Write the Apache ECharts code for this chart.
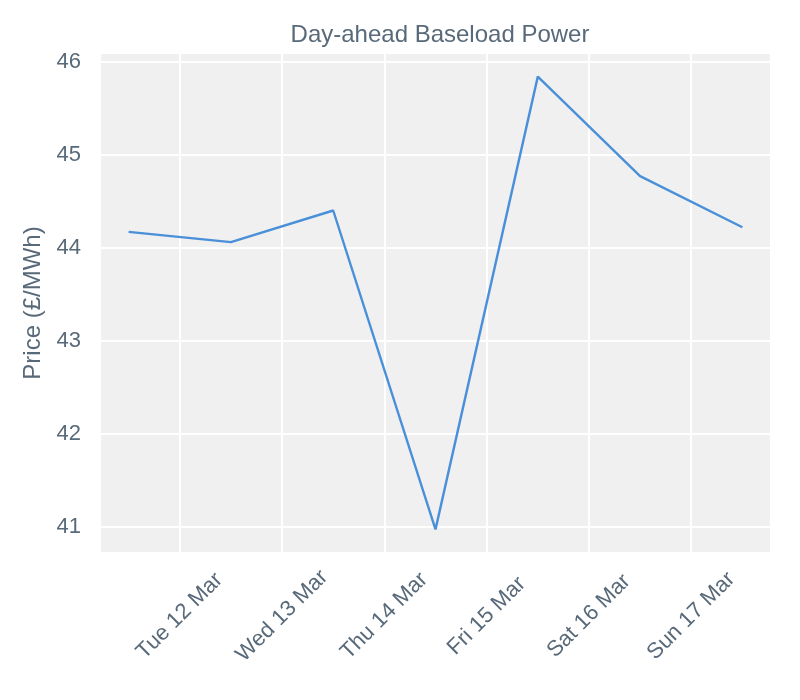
<!DOCTYPE html>
<html>
<head>
<meta charset="utf-8">
<script src="https://cdn.jsdelivr.net/npm/echarts@6/dist/echarts.min.js"></script>
<style>
	html, body { margin: 0; padding: 0; background: #fff; }
	#chart { width: 800px; height: 700px; }
</style>
</head>
<body>
<div id="chart"></div>
<script>
// data
var days = ['2024-03-11', '2024-03-12', '2024-03-13', '2024-03-14', '2024-03-15', '2024-03-16', '2024-03-17'];
var prices = [44.17, 44.06, 44.40, 40.97, 45.84, 44.77, 44.22];
var tickDays = ['2024-03-12', '2024-03-13', '2024-03-14', '2024-03-15', '2024-03-16', '2024-03-17'];
var yTicks = [41, 42, 43, 44, 45, 46];

var DAY = 86400000;
var weekNames = ['Sun', 'Mon', 'Tue', 'Wed', 'Thu', 'Fri', 'Sat'];
var monthNames = ['Jan', 'Feb', 'Mar', 'Apr', 'May', 'Jun', 'Jul', 'Aug', 'Sep', 'Oct', 'Nov', 'Dec'];

function toMs(s) {
	var p = s.split('-');
	return Date.UTC(+p[0], +p[1] - 1, +p[2]);
}

//   points sit at midday
var seriesData = days.map(function (d, i) {
	return [toMs(d) + DAY / 2, prices[i]];
});
var xTicks = tickDays.map(toMs);

//   5% margins like the original
var xFirst = seriesData[0][0], xLast = seriesData[seriesData.length - 1][0];
var xPad = (xLast - xFirst) * 0.045;
var yMin = Math.min.apply(null, prices), yMax = Math.max.apply(null, prices);
var yPad = (yMax - yMin) * 0.05;

var textColor = '#586a7a';
var fontFamily = "'Liberation Sans', Arial, sans-serif";

var myChart = echarts.init(document.getElementById('chart'));
myChart.setOption({
	backgroundColor: '#ffffff',
	animation: false,
	title: {
		text: 'Day-ahead Baseload Power',
		left: 435,
		top: 18,
		textAlign: 'center',
		textStyle: { color: textColor, fontSize: 24, fontWeight: 'normal', fontFamily: fontFamily }
	},
	grid: {
		left: 101,
		right: 30,
		top: 54,
		bottom: 148,
		show: true,
		backgroundColor: '#f0f0f0',
		borderWidth: 0
	},
	xAxis: {
		type: 'value',
		min: xFirst - xPad,
		max: xLast + xPad,
		axisLine: { show: false },
		axisTick: { show: false, customValues: xTicks },
		splitLine: { show: true, lineStyle: { color: '#ffffff', width: 2 } },
		axisLabel: {
			customValues: xTicks,
			rotate: 45,
			align: 'center',
			verticalAlign: 'middle',
			margin: 64,
			color: textColor,
			fontSize: 22,
			fontFamily: fontFamily,
			formatter: function (v) {
				var d = new Date(v);
				return weekNames[d.getUTCDay()] + ' ' + d.getUTCDate() + ' ' + monthNames[d.getUTCMonth()];
			}
		}
	},
	yAxis: {
		type: 'value',
		min: yMin - yPad,
		max: yMax + yPad,
		name: 'Price (£/MWh)',
		nameLocation: 'middle',
		nameGap: 54,
		nameTextStyle: { color: textColor, fontSize: 24, fontFamily: fontFamily },
		axisLine: { show: false },
		axisTick: { show: false, customValues: yTicks },
		splitLine: { show: true, lineStyle: { color: '#ffffff', width: 2 } },
		axisLabel: {
			customValues: yTicks,
			margin: 20,
			color: textColor,
			fontSize: 22,
			fontFamily: fontFamily
		}
	},
	series: [{
		type: 'line',
		data: seriesData,
		symbol: 'none',
		lineStyle: { color: '#4a90d9', width: 2.4 }
	}]
});
</script>
</body>
</html>
